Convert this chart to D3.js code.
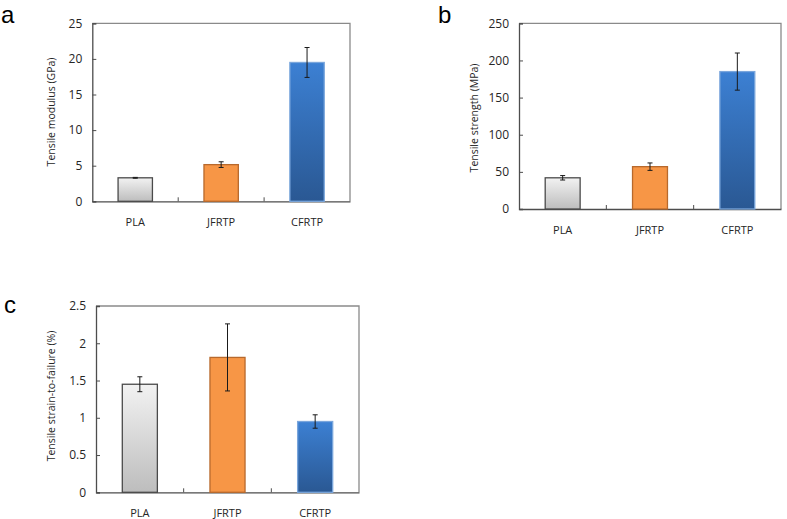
<!DOCTYPE html>
<html>
<head>
<meta charset="utf-8">
<script src="https://cdn.jsdelivr.net/npm/d3@7"></script>
<style>
  html, body { margin: 0; padding: 0; background: #fff; }
  svg { display: block; }
  text { font-family: "Open Sans", "Noto Sans", sans-serif; fill: #262626; }
</style>
</head>
<body>
<svg id="chart" width="787" height="519"></svg>
<script>
// ---- data ----
const categories = ["PLA", "JFRTP", "CFRTP"];
const modulusValues = [3.3, 5.15, 19.5];
const modulusErrors = [0.06, 0.4, 2.1];
const strengthValues = [42, 57, 185];
const strengthErrors = [3, 5, 25];
const strainValues = [1.45, 1.81, 0.95];
const strainErrors = [0.1, 0.45, 0.09];
const modulusTicks = [0, 5, 10, 15, 20, 25];
const strengthTicks = [0, 50, 100, 150, 200, 250];
const strainTicks = [0, 0.5, 1, 1.5, 2, 2.5];

// ---- layout ----
const svg = d3.select("#chart");
const defs = svg.append("defs");
function grad(id, top, bottom) {
  const g = defs.append("linearGradient").attr("id", id)
    .attr("x1", 0).attr("y1", 0).attr("x2", 0).attr("y2", 1);
  g.append("stop").attr("offset", "0%").attr("stop-color", top);
  g.append("stop").attr("offset", "100%").attr("stop-color", bottom);
}
grad("gPLA", "#f2f2f2", "#bdbdbd");
grad("gJF", "#f79646", "#f79646");
grad("gCF", "#3c80d3", "#2a5893");
const fills = ["url(#gPLA)", "url(#gJF)", "url(#gCF)"];
const strokes = ["#4a4a4a", "#b8692c", "#7aa6dc"];

const panels = [
  {letter: "a", lx: 1, ly: 23, x0: 92.3, x1: 350, y0: 23.3, y1: 201.3, max: 25,
   values: modulusValues, errors: modulusErrors, ticks: modulusTicks,
   title: "Tensile modulus (GPa)", tx: 51, ty: 112},
  {letter: "b", lx: 438, ly: 23, x0: 519, x1: 781, y0: 23.3, y1: 209, max: 250,
   values: strengthValues, errors: strengthErrors, ticks: strengthTicks,
   title: "Tensile strength (MPa)", tx: 474, ty: 118},
  {letter: "c", lx: 4, ly: 313, x0: 96, x1: 359, y0: 306, y1: 492.3, max: 2.5,
   values: strainValues, errors: strainErrors, ticks: strainTicks,
   title: "Tensile strain-to-failure (%)", tx: 51, ty: 396}
];

panels.forEach(p => {
  const g = svg.append("g");
  const x = d3.scaleBand().domain(categories).range([p.x0, p.x1])
    .paddingInner(0.6).paddingOuter(0.3);
  const xb = d3.scaleBand().domain(categories).range([p.x0, p.x1]).padding(0);
  const y = d3.scaleLinear().domain([0, p.max]).range([p.y1, p.y0]);

  // panel letter
  g.append("text").attr("x", p.lx).attr("y", p.ly)
    .style("font-family", "'Liberation Sans', Arial, sans-serif")
    .style("font-size", "24px").style("fill", "#000").text(p.letter);

  // box top/right
  g.append("path")
    .attr("d", `M${p.x0},${p.y0}H${p.x1}V${p.y1}`)
    .attr("fill", "none").attr("stroke", "#8a8a8a").attr("stroke-width", 1.3);

  // y axis
  const ya = g.append("g").attr("transform", `translate(${p.x0},0)`)
    .call(d3.axisLeft(y).tickValues(p.ticks).tickSize(-4).tickPadding(10)
      .tickFormat(d => String(d)));
  ya.select(".domain").attr("stroke", "#4d4d4d").attr("stroke-width", 1.3);
  ya.selectAll(".tick line").attr("stroke", "#4d4d4d");
  ya.selectAll(".tick text").style("font-size", "12px")
    .style("font-family", "'Open Sans', sans-serif").attr("fill", "#262626");

  // x axis with boundary ticks
  const xa = g.append("g").attr("transform", `translate(0,${p.y1})`)
    .call(d3.axisBottom(xb).tickSize(0).tickPadding(17));
  xa.select(".domain").attr("stroke", "#4d4d4d").attr("stroke-width", 1.3);
  xa.selectAll(".tick text").style("font-size", "11px")
    .style("font-family", "'Open Sans', sans-serif").attr("fill", "#262626");
  g.selectAll(".bt").data(categories.slice(1)).enter().append("line")
    .attr("x1", d => xb(d)).attr("x2", d => xb(d))
    .attr("y1", p.y1).attr("y2", p.y1 - 4)
    .attr("stroke", "#4d4d4d").attr("stroke-width", 1);

  // bars
  g.selectAll(".bar").data(categories).enter().append("rect")
    .attr("x", d => x(d)).attr("width", x.bandwidth())
    .attr("y", (d, i) => y(p.values[i]))
    .attr("height", (d, i) => p.y1 - y(p.values[i]))
    .attr("fill", (d, i) => fills[i])
    .attr("stroke", (d, i) => strokes[i]).attr("stroke-width", 1.3);

  // error bars
  const eg = g.selectAll(".err").data(categories).enter().append("g");
  eg.append("line")
    .attr("x1", d => x(d) + x.bandwidth() / 2).attr("x2", d => x(d) + x.bandwidth() / 2)
    .attr("y1", (d, i) => y(p.values[i] + p.errors[i]))
    .attr("y2", (d, i) => y(p.values[i] - p.errors[i]))
    .attr("stroke", "#1a1a1a").attr("stroke-width", 1);
  [1, -1].forEach(s => {
    eg.append("line")
      .attr("x1", d => x(d) + x.bandwidth() / 2 - 2.5)
      .attr("x2", d => x(d) + x.bandwidth() / 2 + 2.5)
      .attr("y1", (d, i) => y(p.values[i] + s * p.errors[i]))
      .attr("y2", (d, i) => y(p.values[i] + s * p.errors[i]))
      .attr("stroke", "#1a1a1a").attr("stroke-width", 1);
  });

  // y title
  g.append("text")
    .attr("transform", `translate(${p.tx},${p.ty}) rotate(-90)`)
    .attr("text-anchor", "middle").attr("dominant-baseline", "central")
    .style("font-size", "10.5px").text(p.title);
});
</script>
</body>
</html>
